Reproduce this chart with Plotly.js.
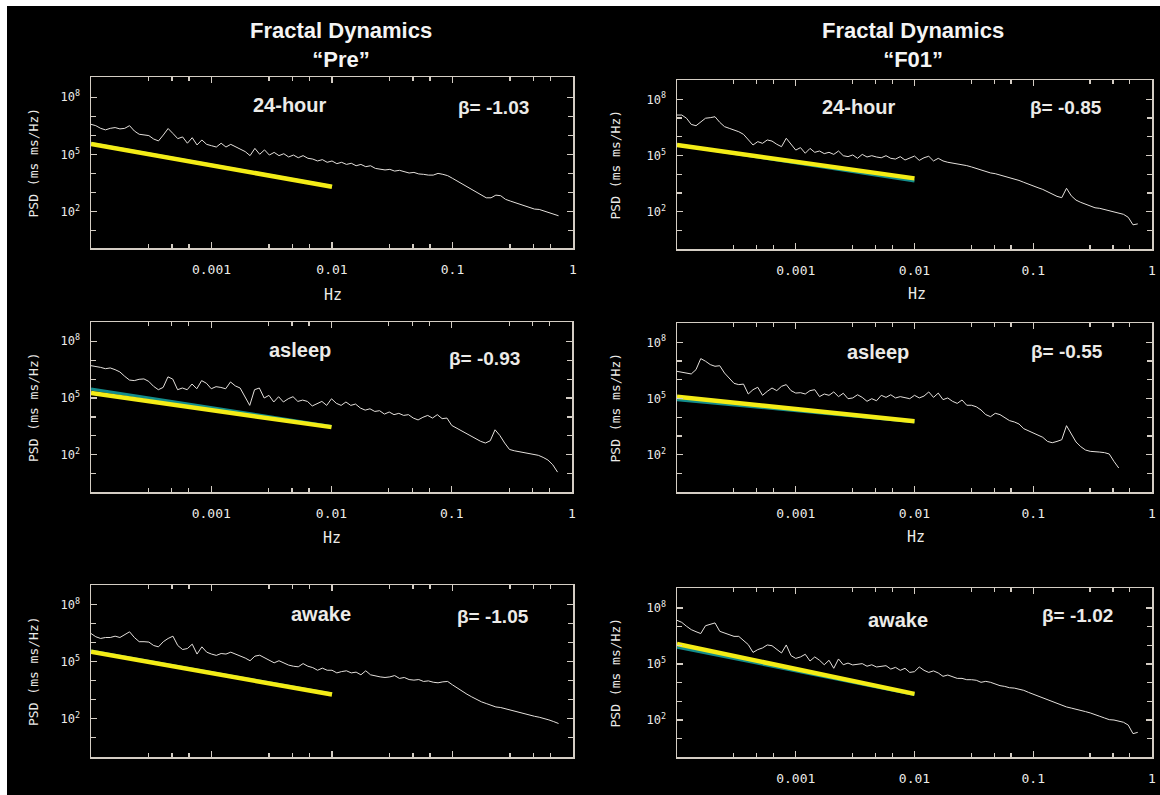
<!DOCTYPE html>
<html>
<head>
<meta charset="utf-8">
<script src="https://cdn.plot.ly/plotly-3.0.1.min.js"></script>
<style>
  html, body { margin: 0; padding: 0; background: #000; }
  #chart { width: 1160px; height: 795px; }
</style>
</head>
<body>
<div id="chart"></div>
<script>
// ---------- DATA (log10 values) ----------
const log10Freq = [
  -4.00,-3.96,-3.92,-3.88,-3.84,-3.80,-3.76,-3.72,-3.68,-3.64,
  -3.60,-3.56,-3.52,-3.48,-3.44,-3.40,-3.36,-3.32,-3.28,-3.24,
  -3.20,-3.16,-3.12,-3.08,-3.04,-3.00,-2.96,-2.92,-2.88,-2.84,
  -2.80,-2.76,-2.72,-2.68,-2.64,-2.60,-2.56,-2.52,-2.48,-2.44,
  -2.40,-2.36,-2.32,-2.28,-2.24,-2.20,-2.16,-2.12,-2.08,-2.04,
  -2.00,-1.96,-1.92,-1.88,-1.84,-1.80,-1.76,-1.72,-1.68,-1.64,
  -1.60,-1.56,-1.52,-1.48,-1.44,-1.40,-1.36,-1.32,-1.28,-1.24,
  -1.20,-1.16,-1.12,-1.08,-1.04,-1.00,-0.96,-0.92,-0.88,-0.84,
  -0.80,-0.76,-0.72,-0.68,-0.64,-0.60,-0.56,-0.52,-0.48,-0.44,
  -0.40,-0.36,-0.32,-0.28,-0.24,-0.20,-0.16,-0.12
];

const log10PsdPre24h = [
  6.58,6.51,6.37,6.29,6.37,6.41,6.34,6.37,6.51,6.23,
  6.06,6.02,5.99,5.81,5.71,6.02,6.36,6.10,5.83,5.92,
  5.59,5.88,5.50,5.76,5.53,5.46,5.39,5.59,5.39,5.53,
  5.41,5.29,5.15,4.94,5.32,5.01,5.24,4.97,5.11,4.94,
  5.04,4.87,4.97,4.83,4.94,4.80,4.76,4.66,4.73,4.59,
  4.66,4.52,4.59,4.48,4.54,4.41,4.48,4.36,4.41,4.27,
  4.24,4.19,4.22,4.13,4.17,4.10,4.03,4.06,3.98,3.96,
  3.92,3.92,4.01,3.96,3.89,3.75,3.61,3.45,3.31,3.17,
  3.01,2.87,2.73,2.73,2.87,2.84,2.65,2.56,2.47,2.38,
  2.31,2.21,2.14,2.12,2.03,1.97,1.88,1.79
];
const log10PsdF01_24h = [
  7.16,7.16,6.99,6.66,6.59,6.81,6.99,7.02,7.07,6.77,
  6.54,6.45,6.36,6.27,6.13,5.83,5.56,5.74,5.65,5.83,
  5.77,5.60,5.47,5.92,5.60,5.29,5.42,5.12,5.38,5.17,
  5.24,5.10,5.17,5.06,5.24,4.99,4.94,5.03,4.85,5.06,
  4.92,4.99,4.92,4.88,4.99,4.85,4.81,4.94,4.76,4.85,
  4.97,4.74,4.88,4.96,4.71,4.85,4.71,4.64,4.60,4.56,
  4.49,4.46,4.39,4.31,4.21,4.14,4.07,4.03,3.96,3.91,
  3.82,3.75,3.67,3.57,3.46,3.35,3.28,3.19,3.07,2.96,
  2.82,2.75,3.25,2.85,2.62,2.50,2.39,2.32,2.21,2.18,
  2.11,2.04,2.00,1.93,1.86,1.70,1.30,1.35
];
const log10PsdPreAsleep = [
  6.71,6.68,6.62,6.55,6.59,6.50,6.38,6.15,5.95,5.92,
  5.99,6.01,5.88,5.62,5.44,5.56,6.12,6.00,5.44,5.53,
  5.44,5.74,5.49,5.92,5.78,5.49,5.60,5.56,5.49,5.85,
  5.64,5.53,5.09,4.61,5.44,5.53,5.00,5.14,4.79,5.07,
  4.79,4.96,5.07,4.82,4.89,4.82,4.58,4.72,4.82,4.61,
  4.96,4.72,4.61,4.79,4.61,4.68,4.47,4.36,4.43,4.29,
  4.33,4.15,4.26,4.12,4.19,4.08,4.12,3.94,3.84,3.98,
  4.08,3.94,4.12,3.91,3.94,3.55,3.41,3.27,3.15,2.97,
  2.85,2.71,2.62,2.74,3.32,3.02,2.62,2.28,2.21,2.16,
  2.11,2.07,2.04,1.97,1.86,1.72,1.47,1.08
];
const log10PsdF01Asleep = [
  6.45,6.41,6.34,6.31,6.54,7.13,6.99,6.81,6.72,6.75,
  6.36,6.06,5.81,5.74,5.77,5.24,5.47,5.60,5.17,5.38,
  5.56,5.42,5.65,5.74,5.42,5.29,5.31,5.24,5.42,5.47,
  5.10,5.24,5.17,5.35,5.10,5.28,4.99,5.03,5.20,5.06,
  4.85,4.99,4.88,5.17,5.06,5.20,5.03,5.10,5.06,4.99,
  5.17,5.03,5.13,5.35,5.06,5.29,4.94,5.03,4.85,4.74,
  4.92,4.64,4.64,4.56,4.39,4.14,4.03,4.21,4.14,3.96,
  3.82,3.75,3.64,3.39,3.28,3.16,3.07,2.93,2.71,2.64,
  2.71,2.80,3.55,3.10,2.68,2.43,2.25,2.18,2.14,2.14,
  2.11,2.04,1.64,1.29
];
const log10PsdPreAwake = [
  6.47,6.30,6.21,6.26,6.26,6.33,6.26,6.39,6.56,6.26,
  6.04,6.04,6.02,5.84,5.77,6.04,6.21,6.33,5.84,5.63,
  5.68,5.91,5.39,5.77,5.49,5.39,5.32,5.42,5.39,5.49,
  5.39,5.25,5.18,5.04,5.28,5.33,5.21,5.07,4.93,5.04,
  4.93,4.81,4.75,4.72,4.89,4.75,4.68,4.54,4.65,4.54,
  4.54,4.40,4.47,4.51,4.40,4.44,4.30,4.51,4.30,4.23,
  4.19,4.16,4.19,4.26,4.11,4.16,4.05,4.02,4.05,3.95,
  3.98,3.91,3.88,3.93,3.95,3.77,3.60,3.42,3.28,3.14,
  3.00,2.88,2.79,2.68,2.61,2.58,2.51,2.44,2.39,2.32,
  2.23,2.16,2.12,2.07,2.02,1.93,1.84,1.74
];
const log10PsdF01Awake = [
  7.34,7.23,7.02,6.84,6.73,6.63,7.05,7.13,7.20,6.75,
  6.66,6.61,6.48,6.48,6.27,6.04,5.62,5.77,5.86,6.02,
  5.98,5.77,5.59,6.02,5.45,5.30,5.38,5.52,5.16,5.38,
  5.20,4.96,5.20,4.77,5.27,4.96,5.05,4.95,4.98,5.02,
  4.88,4.96,4.84,4.88,4.91,4.73,4.82,4.66,4.77,4.55,
  4.59,4.84,4.66,4.55,4.63,4.52,4.34,4.41,4.30,4.23,
  4.23,4.16,4.16,4.13,4.02,4.07,4.02,3.91,3.84,3.80,
  3.73,3.71,3.66,3.59,3.48,3.38,3.27,3.20,3.09,2.98,
  2.88,2.80,2.70,2.64,2.59,2.52,2.45,2.38,2.27,2.20,
  2.11,2.02,2.00,1.95,1.88,1.73,1.27,1.34
];

// fitted power-law lines (log10 endpoints)
const log10FitFreq = [-4.0, -2.0];
const fitYellowPre24h   = [5.55, 3.31];
const fitTealPre24h     = [5.58, 3.32];
const fitYellowF01_24h  = [5.56, 3.78];
const fitTealF01_24h    = [5.58, 3.64];
const fitYellowPreAsleep = [5.26, 3.46];
const fitTealPreAsleep   = [5.48, 3.50];
const fitYellowF01Asleep = [5.10, 3.78];
const fitTealF01Asleep   = [4.94, 3.76];
const fitYellowPreAwake  = [5.51, 3.26];
const fitTealPreAwake    = [5.55, 3.29];
const fitYellowF01Awake  = [6.07, 3.40];
const fitTealF01Awake    = [5.90, 3.36];

const columnTitles = ['Fractal Dynamics<br>\u201cPre\u201d', 'Fractal Dynamics<br>\u201cF01\u201d'];
const stateLabels = ['24-hour', '24-hour', 'asleep', 'asleep', 'awake', 'awake'];
const betaLabels = ['\u03b2= -1.03', '\u03b2= -0.85', '\u03b2= -0.93', '\u03b2= -0.55', '\u03b2= -1.05', '\u03b2= -1.02'];
const xTickVals = [0.001, 0.01, 0.1, 1];
const xTickText = ['0.001', '0.01', '0.1', '1'];
const xMinorVals = [3e-4, 4.7e-4, 6.5e-4, 3e-3, 4.7e-3, 6.5e-3, 3e-2, 4.7e-2, 6.5e-2, 0.3, 0.47, 0.65];
const yTickVals = [1e2, 1e5, 1e8];
const yTickText = ['10<sup>2</sup>', '10<sup>5</sup>', '10<sup>8</sup>'];
const yMinorVals = [1e1, 1e3, 1e4, 1e6, 1e7];
const yTitle = 'PSD (ms ms/Hz)';
const xTitle = 'Hz';

// ---------- BUILD ----------
const pow10 = a => a.map(v => Math.pow(10, v));
const W = 1160, H = 795;
const AX = '#d4cdc4', TXT = '#ecebe8';
const MONO = '"DejaVu Sans Mono", "Liberation Mono", monospace';
const SANS = '"Liberation Sans", Arial, Helvetica, sans-serif';

const panels = [
  {psd: log10PsdPre24h,    yel: fitYellowPre24h,    teal: fitTealPre24h,    box: [91, 573, 77, 248],  yr: [0.10, 9.06], xl: true,  hz: true},
  {psd: log10PsdF01_24h,   yel: fitYellowF01_24h,   teal: fitTealF01_24h,   box: [677, 1152, 80, 249], yr: [0.01, 9.03], xl: true,  hz: true},
  {psd: log10PsdPreAsleep, yel: fitYellowPreAsleep, teal: fitTealPreAsleep, box: [91, 572, 322, 492], yr: [0.03, 9.02], xl: true,  hz: true},
  {psd: log10PsdF01Asleep, yel: fitYellowF01Asleep, teal: fitTealF01Asleep, box: [677, 1152, 323, 492], yr: [0.01, 9.03], xl: true, hz: true},
  {psd: log10PsdPreAwake,  yel: fitYellowPreAwake,  teal: fitTealPreAwake,  box: [91, 573, 585, 757], yr: [-0.02, 9.02], xl: false, hz: false},
  {psd: log10PsdF01Awake,  yel: fitYellowF01Awake,  teal: fitTealF01Awake,  box: [677, 1152, 588, 757], yr: [0.02, 9.07], xl: true, hz: false}
];
// label positions (px): [stateX, stateY, betaX, betaY]
const labelPos = [
  [290, 105, 493, 108], [859, 107, 1066, 108],
  [300, 350, 484, 358], [878, 352, 1067, 351],
  [321, 614, 493, 616], [898, 620, 1077, 615]
];
const hzPos = [[333, 295], [917, 294], [332, 538], [916, 537]];

const px = x => x / W, py = y => 1 - y / H;
const traces = [];
const layout = {
  width: W, height: H,
  margin: {l: 0, r: 0, t: 0, b: 0},
  paper_bgcolor: '#000', plot_bgcolor: '#000',
  showlegend: false,
  annotations: [],
  shapes: [
    {type: 'rect', xref: 'paper', yref: 'paper', x0: 0, x1: px(7), y0: 0, y1: 1, fillcolor: '#fff', line: {width: 0}, layer: 'below'},
    {type: 'rect', xref: 'paper', yref: 'paper', x0: 0, x1: 1, y0: py(6), y1: 1, fillcolor: '#fff', line: {width: 0}, layer: 'below'}
  ]
};

panels.forEach((p, i) => {
  const n = i + 1, sfx = n === 1 ? '' : String(n);
  const xa = 'x' + sfx, ya = 'y' + sfx;
  const freq = pow10(log10Freq.slice(0, p.psd.length));
  traces.push({x: freq, y: pow10(p.psd), xaxis: xa, yaxis: ya, type: 'scatter', mode: 'lines',
               line: {color: '#e4e0dc', width: 1}, hoverinfo: 'skip'});
  traces.push({x: pow10(log10FitFreq), y: pow10(p.teal), xaxis: xa, yaxis: ya, type: 'scatter', mode: 'lines',
               line: {color: '#138c8c', width: 3}, hoverinfo: 'skip'});
  traces.push({x: pow10(log10FitFreq), y: pow10(p.yel), xaxis: xa, yaxis: ya, type: 'scatter', mode: 'lines',
               line: {color: '#f4ec16', width: 4.5}, hoverinfo: 'skip'});

  const [l, r, t, b] = p.box;
  layout['xaxis' + sfx] = {
    type: 'log', range: [-4, 0], domain: [px(l), px(r)], anchor: ya,
    showline: true, linecolor: AX, linewidth: 1.5, mirror: 'ticks',
    ticks: 'inside', ticklen: 6, tickwidth: 1.3, tickcolor: AX,
    tickmode: 'array', tickvals: xTickVals, ticktext: xTickText,
    showticklabels: p.xl, ticklabelstandoff: 9,
    tickfont: {family: MONO, size: 13, color: TXT},
    minor: {tickmode: 'array', tickvals: xMinorVals, ticks: 'inside', ticklen: 4, tickwidth: 1.2, tickcolor: AX},
    showgrid: false, zeroline: false, fixedrange: true
  };
  layout['yaxis' + sfx] = {
    type: 'log', range: p.yr, domain: [py(b), py(t)], anchor: xa,
    showline: true, linecolor: AX, linewidth: 1.5, mirror: 'ticks',
    ticks: 'inside', ticklen: 6, tickwidth: 1.3, tickcolor: AX,
    tickmode: 'array', tickvals: yTickVals, ticktext: yTickText,
    ticklabelstandoff: 7,
    tickfont: {family: MONO, size: 12, color: TXT},
    minor: {tickmode: 'array', tickvals: yMinorVals, ticks: 'inside', ticklen: 5, tickwidth: 1.2, tickcolor: AX},
    showgrid: false, zeroline: false, fixedrange: true
  };

  const lp = labelPos[i];
  layout.annotations.push({xref: 'paper', yref: 'paper', x: px(lp[0]), y: py(lp[1]), xanchor: 'center', yanchor: 'middle',
    text: '<b>' + stateLabels[i] + '</b>', showarrow: false, font: {family: SANS, size: 20, color: TXT}});
  layout.annotations.push({xref: 'paper', yref: 'paper', x: px(lp[2]), y: py(lp[3]), xanchor: 'center', yanchor: 'middle',
    text: '<b>' + betaLabels[i] + '</b>', showarrow: false, font: {family: SANS, size: 19, color: TXT}});
  // y title
  const yx = (i % 2 === 0) ? 33 : 615;
  layout.annotations.push({xref: 'paper', yref: 'paper', x: px(yx), y: py((t + b) / 2), xanchor: 'center', yanchor: 'middle',
    text: yTitle, textangle: -90, showarrow: false, font: {family: MONO, size: 13, color: TXT}});
});

hzPos.forEach(h => layout.annotations.push({xref: 'paper', yref: 'paper', x: px(h[0]), y: py(h[1]),
  xanchor: 'center', yanchor: 'middle', text: xTitle, showarrow: false, font: {family: MONO, size: 15, color: TXT}}));

[341, 913].forEach((cx, j) => layout.annotations.push({xref: 'paper', yref: 'paper', x: px(cx), y: py(45),
  xanchor: 'center', yanchor: 'middle', text: '<b>' + columnTitles[j] + '</b>', showarrow: false,
  font: {family: SANS, size: 22, color: '#f4f4f4'}}));

Plotly.newPlot('chart', traces, layout, {staticPlot: true, displayModeBar: false});
</script>
</body>
</html>
